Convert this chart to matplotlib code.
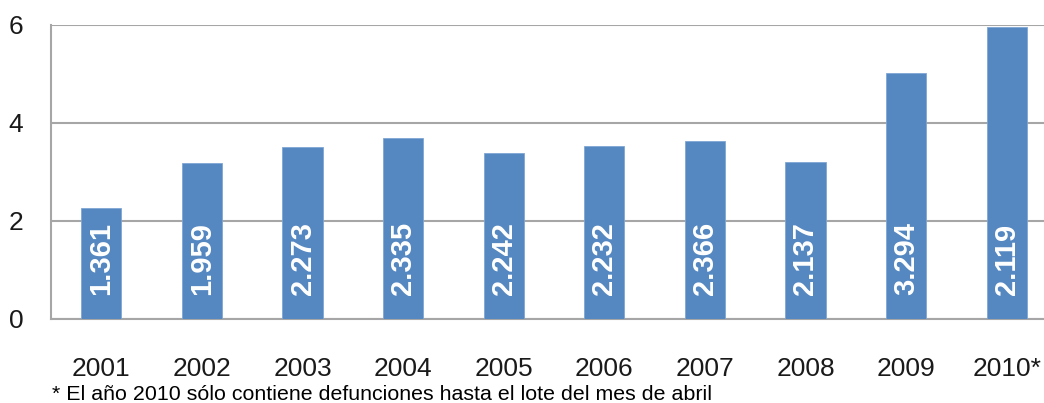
import matplotlib
matplotlib.use('Agg')
import matplotlib.pyplot as plt

# Data
years = ['2001', '2002', '2003', '2004', '2005', '2006', '2007', '2008', '2009', '2010*']
heights = [2.27, 3.17, 3.51, 3.69, 3.38, 3.53, 3.62, 3.20, 5.01, 5.94]
bar_labels = ['1.361', '1.959', '2.273', '2.335', '2.242', '2.232', '2.366', '2.137', '3.294', '2.119']
y_ticks = [0, 2, 4, 6]
footnote = '* El año 2010 sólo contiene defunciones hasta el lote del mes de abril'

BAR_COLOR = '#5587C1'
GRID_COLOR = '#A6A6A6'
TEXT_COLOR = '#1A1A1A'

plt.rcParams['font.family'] = ['Liberation Sans', 'DejaVu Sans']

fig = plt.figure(figsize=(10.44, 4.03), dpi=100)
# axes extends past the right edge, as in the (cropped) reference
ax = fig.add_axes([51 / 1044, 84 / 403, 1006 / 1044, 294.5 / 403])

x = list(range(len(years)))
ax.bar(x, heights, width=0.4, color=BAR_COLOR, edgecolor='#7FA6D4', linewidth=0.6, zorder=3)

for xi, lab in zip(x, bar_labels):
    ax.text(xi, 0.48, lab, rotation=90, ha='center', va='bottom', color='white',
            fontsize=21, fontweight='bold', zorder=4)

ax.set_xlim(-0.5, len(years) - 0.5)
ax.set_ylim(0, 6)
ax.set_yticks(y_ticks)
ax.set_xticks(x)
ax.set_xticklabels(years)

ax.yaxis.grid(True, color=GRID_COLOR, linewidth=1.5, zorder=0)
ax.set_axisbelow(True)
for side in ['top', 'right']:
    ax.spines[side].set_visible(False)
for side in ['left', 'bottom']:
    ax.spines[side].set_color(GRID_COLOR)
    ax.spines[side].set_linewidth(1.5)

ax.tick_params(axis='both', length=0, labelsize=19, labelcolor=TEXT_COLOR)
ax.tick_params(axis='x', pad=27)
ax.tick_params(axis='y', pad=20)

fig.text(52 / 1044, 8 / 403, footnote, ha='left', va='center', fontsize=15.4, color='black')

fig.savefig('out.png', dpi=100)
